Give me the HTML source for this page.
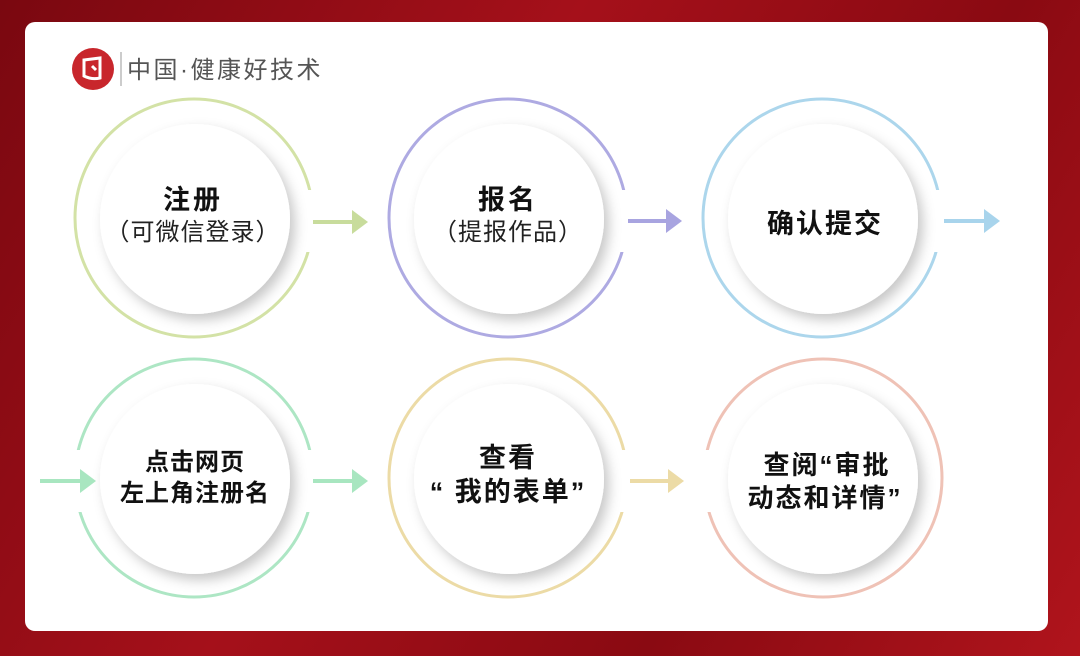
<!DOCTYPE html>
<html><head><meta charset="utf-8"><style>
html,body{margin:0;padding:0;}
body{width:1080px;height:656px;overflow:hidden;background:linear-gradient(120deg,#7a0810 0%,#a5101a 40%,#8a0a12 70%,#b0141c 100%);position:relative;font-family:"Liberation Sans","Noto Sans CJK SC",sans-serif;}
.card{position:absolute;left:25px;top:22px;width:1023px;height:609px;background:#fff;border-radius:10px;}
svg{position:absolute;left:0;top:0;}
</style></head><body>
<div class="card"></div>
<svg width="1080" height="656" viewBox="0 0 1080 656">
<defs>
<filter id="sh" x="-30%" y="-30%" width="160%" height="160%">
<feDropShadow dx="5" dy="6" stdDeviation="6" flood-color="#000" flood-opacity="0.22"/>
</filter>
</defs>
<circle cx="93" cy="69" r="21" fill="#c8262c"/>
<path d="M84 60 L100 58 L100 78 Q92 80 84 76 Z" fill="none" stroke="#fff" stroke-width="3"/>
<path d="M92 66 L96 70" stroke="#fff" stroke-width="3"/>
<line x1="121" y1="52" x2="121" y2="86" stroke="#999" stroke-width="1"/>
<text x="127" y="78" font-size="24" fill="#555" font-family="Liberation Sans,Noto Sans CJK SC,sans-serif" letter-spacing="2.5">中国·健康好技术</text>

<g fill="none" stroke-width="3">
<circle cx="194" cy="218" r="119" stroke="#d3e2a6"/>
<circle cx="508" cy="218" r="119" stroke="#aeaae2"/>
<circle cx="822" cy="218" r="119" stroke="#acd6ec"/>
<circle cx="194" cy="478" r="119" stroke="#ade6c4"/>
<circle cx="508" cy="478" r="119" stroke="#ecdba6"/>
<circle cx="823" cy="478" r="119" stroke="#efc2b6"/>
</g>
<g fill="#fff">
<rect x="305" y="190" width="20" height="62"/>
<rect x="619" y="190" width="20" height="62"/>
<rect x="933" y="190" width="20" height="62"/>
<rect x="65" y="450" width="20" height="62"/>
<rect x="305" y="450" width="20" height="62"/>
<rect x="619" y="450" width="20" height="62"/>
<rect x="694" y="450" width="20" height="62"/>
</g>
<g filter="url(#sh)" fill="#fff">
<circle cx="195" cy="219" r="95"/>
<circle cx="509" cy="219" r="95"/>
<circle cx="823" cy="219" r="95"/>
<circle cx="195" cy="479" r="95"/>
<circle cx="509" cy="479" r="95"/>
<circle cx="823" cy="479" r="95"/>
</g>
<g stroke-width="4">
<line x1="313" y1="222" x2="362" y2="222" stroke="#c8dc9c"/>
<path d="M352 210 L368 222 L352 234 Z" fill="#c8dc9c"/>
<line x1="628" y1="221" x2="676" y2="221" stroke="#a8a4e0"/>
<path d="M666 209 L682 221 L666 233 Z" fill="#a8a4e0"/>
<line x1="944" y1="221" x2="993" y2="221" stroke="#a8d4ec"/>
<path d="M984 209 L1000 221 L984 233 Z" fill="#a8d4ec"/>
<line x1="40" y1="481" x2="89" y2="481" stroke="#a8e6c0"/>
<path d="M80 469 L96 481 L80 493 Z" fill="#a8e6c0"/>
<line x1="313" y1="481" x2="362" y2="481" stroke="#a8e6c0"/>
<path d="M352 469 L368 481 L352 493 Z" fill="#a8e6c0"/>
<line x1="630" y1="481" x2="678" y2="481" stroke="#ecdba6"/>
<path d="M668 469 L684 481 L668 493 Z" fill="#ecdba6"/>
</g>
<g font-family="Liberation Sans,Noto Sans CJK SC,sans-serif" fill="#111" text-anchor="middle">
<text x="193" y="209" font-size="27" font-weight="bold" letter-spacing="3">注册</text>
<text x="193" y="240" font-size="24" letter-spacing="1" fill="#222">（可微信登录）</text>
<text x="508" y="209" font-size="27" font-weight="bold" letter-spacing="3">报名</text>
<text x="508" y="240" font-size="24" letter-spacing="1" fill="#222">（提报作品）</text>
<text x="825" y="233" font-size="27" font-weight="bold" letter-spacing="2">确认提交</text>
<text x="195" y="470" font-size="24" font-weight="bold" letter-spacing="1">点击网页</text>
<text x="195" y="501" font-size="24" font-weight="bold" letter-spacing="1">左上角注册名</text>
<text x="508" y="467" font-size="27" font-weight="bold" letter-spacing="2">查看</text>
<text x="508" y="501" font-size="27" font-weight="bold" letter-spacing="2">“ 我的表单”</text>
<text x="827" y="474" font-size="26" font-weight="bold" letter-spacing="2">查阅“审批</text>
<text x="825" y="507" font-size="26" font-weight="bold" letter-spacing="2">动态和详情”</text>
</g>
</svg>
</body></html>
